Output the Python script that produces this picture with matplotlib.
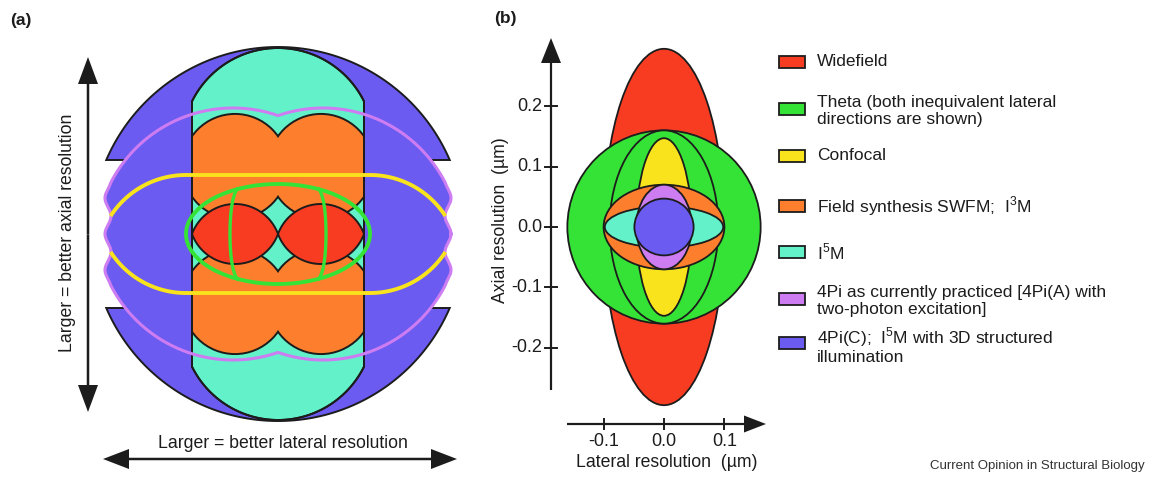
import numpy as np
import matplotlib.pyplot as plt
from matplotlib.patches import Ellipse, Polygon, Rectangle, Circle

plt.rcParams['font.family'] = ['Liberation Sans', 'DejaVu Sans']
plt.rcParams['mathtext.fontset'] = 'custom'
plt.rcParams['mathtext.rm'] = 'Liberation Sans'

W, H = 1149, 480
INK = '#1c1c1c'

# method colours
c_wide, c_theta, c_conf = '#f83c22', '#35e337', '#f9e31c'
c_field, c_i5m, c_4pi, c_4pic = '#fd7e2d', '#62f1c9', '#cd7df1', '#6b5bf1'

# ---- (b) resolution ellipses, half widths in um (lateral, axial)
b_colors = [c_wide, c_theta, c_theta, c_conf, c_field, c_i5m, c_4pi, c_4pic]
b_lateral = [0.100, 0.160, 0.090, 0.046, 0.100, 0.098, 0.046, 0.049]
b_axial = [0.295, 0.160, 0.160, 0.147, 0.070, 0.034, 0.070, 0.047]
y_ticks = [0.2, 0.1, 0.0, -0.1, -0.2]
x_ticks = [-0.1, 0.0, 0.1]

legend_labels = ['Widefield',
                 'Theta (both inequivalent lateral\ndirections are shown)',
                 'Confocal',
                 'Field synthesis SWFM;  I$^{\\mathregular{3}}$M',
                 'I$^{\\mathregular{5}}$M',
                 '4Pi as currently practiced [4Pi(A) with\ntwo-photon excitation]',
                 '4Pi(C);  I$^{\\mathregular{5}}$M with 3D structured\nillumination']
legend_colors = [c_wide, c_theta, c_conf, c_field, c_i5m, c_4pi, c_4pic]

# ---- (a) OTF supports, pixel units about the centre of the drawing
sphere_r, cap_cut = 187, 74                        # 4Pi(C)
col_half, col_cap_r, col_cap_c = 86, 96, 90        # I5M
field_cx, field_cy, field_r = 43, 67.5, 51.6       # SWFM / I3M
lens_len, lens_h = 86, 30                          # widefield
pi_cx, pi_cy, pi_r, pi_side = 45, 11.4, 137.4, 170  # 4Pi(A)
conf_flat, conf_top, conf_r, conf_end = 92, 59, 89.8, 18  # confocal
theta_a, theta_b, theta_in = 92, 50, 48            # theta

fig = plt.figure(figsize=(W / 100, H / 100), dpi=100)

# overlay in pixel coordinates for legend, letters, caption
ov = fig.add_axes([0, 0, 1, 1])
ov.set_xlim(0, W)
ov.set_ylim(H, 0)
ov.axis('off')

# ================= panel (a) =================
axa = fig.add_axes([0, 0, 480 / W, 1])
axa.set_xlim(-278, 202)
axa.set_ylim(-246, 234)
axa.axis('off')

# 4Pi(C) caps
a0 = np.arcsin(cap_cut / sphere_r)
t = np.linspace(a0, np.pi - a0, 200)
cap = np.c_[sphere_r * np.cos(t), sphere_r * np.sin(t)]
for s in (1, -1):
    axa.add_patch(Polygon(cap * [1, s], closed=True, fc=c_4pic, ec=INK, lw=1.4, zorder=1))


# 4Pi(A) outline: star shaped region found along rays from the centre
def ray(th, cx, cy, r):
    p = np.cos(th) * cx + np.sin(th) * cy
    return p + np.sqrt(p ** 2 - cx ** 2 - cy ** 2 + r ** 2)


th = np.linspace(0, 2 * np.pi, 2881)
upper = np.maximum(ray(th, pi_cx, -pi_cy, pi_r), ray(th, -pi_cx, -pi_cy, pi_r))
lower = np.maximum(ray(th, pi_cx, pi_cy, pi_r), ray(th, -pi_cx, pi_cy, pi_r))
rr = np.minimum(upper, lower)
px, py = rr * np.cos(th), rr * np.sin(th)
side = pi_side + 3 * np.cos(2 * np.pi * py / 36)
px = np.clip(px, -side, side)
axa.add_patch(Polygon(np.c_[px, py], closed=True, fc=c_4pic, ec='none', zorder=2))

# I5M column
ca = np.arccos(col_half / col_cap_r)
t = np.linspace(ca, np.pi - ca, 120)
ctop = np.c_[col_cap_r * np.cos(t), col_cap_c + col_cap_r * np.sin(t)]
col = np.vstack([ctop, -ctop])
col_patch = Polygon(col, closed=True, fc=c_i5m, ec=INK, lw=1.4, zorder=3)
axa.add_patch(col_patch)

# field synthesis: union of four discs, outlined then filled
for k in range(2):
    for sx in (1, -1):
        for sy in (1, -1):
            c = Circle((sx * field_cx, sy * field_cy), field_r, fc=c_field,
                       ec=INK if k == 0 else 'none', lw=2.8 if k == 0 else 0, zorder=4)
            axa.add_patch(c)
            c.set_clip_path(col_patch)

# widefield lenses
w = lens_len / 2
rl = (w ** 2 + lens_h ** 2) / (2 * lens_h)
xs = np.linspace(-w, w, 100)
up = (lens_h - rl) + np.sqrt(rl ** 2 - xs ** 2)
lens = np.r_[np.c_[xs, up], np.c_[xs[::-1], -up[::-1]]]
for sx in (1, -1):
    axa.add_patch(Polygon(lens + [sx * w, 0], closed=True, fc=c_wide, ec=INK, lw=1.4, zorder=5))

axa.add_patch(Polygon(col, closed=True, fill=False, ec=INK, lw=1.4, zorder=6))

axa.plot(np.r_[px, px[0]], np.r_[py, py[0]], color=c_4pi, lw=2.2, zorder=7)

# confocal outline
cy0 = conf_top - conf_r
a_end = np.arcsin((conf_end - cy0) / conf_r)
aa = np.linspace(np.pi / 2, a_end, 60)
right = np.c_[conf_flat + conf_r * np.cos(aa), cy0 + conf_r * np.sin(aa)]
curve = np.vstack([(right * [-1, 1])[::-1], right])
for s in (1, -1):
    axa.plot(curve[:, 0], s * curve[:, 1], color=c_conf, lw=2.8, zorder=8, solid_capstyle='butt')

# theta outlines
axa.add_patch(Ellipse((0, 0), 2 * theta_a, 2 * theta_b, fill=False, ec=c_theta, lw=2.8, zorder=9))
s = np.linspace(-0.9, 0.9, 80)
xin = theta_in * (1 - s ** 2) ** 0.1
for sx in (1, -1):
    axa.plot(sx * xin, theta_b * s, color=c_theta, lw=2.4, zorder=9)


def double_arrow(ax, x0, y0, x1, y1, hw, hl, lw):
    xm, ym = (x0 + x1) / 2, (y0 + y1) / 2
    for xe, ye in ((x0, y0), (x1, y1)):
        ax.arrow(xm, ym, xe - xm, ye - ym, width=lw, head_width=hw, head_length=hl,
                 length_includes_head=True, fc=INK, ec=INK, lw=0, zorder=10)


double_arrow(axa, -190, -178, -190, 177, 20, 27, 2.5)
double_arrow(axa, -175, -225, 179, -225, 20, 26, 2.5)
axa.text(-210, 1, 'Larger = better axial resolution', rotation=90, ha='center', va='center',
         fontsize=12.7, color=INK)
axa.text(5, -209, 'Larger = better lateral resolution', ha='center', va='center',
         fontsize=12.7, color=INK)

# ================= panel (b) =================
S = 604.0
bx0, by0 = 664, 227
axb = fig.add_axes([480 / W, 0, 300 / W, 1])
axb.set_xlim((480 - bx0) / S, (780 - bx0) / S)
axb.set_ylim((by0 - 480) / S, by0 / S)
axb.axis('off')

for lat, axl, colr in zip(b_lateral, b_axial, b_colors):
    axb.add_patch(Ellipse((0, 0), 2 * lat, 2 * axl, fc=colr, ec=INK, lw=1.3))

yax = (551 - bx0) / S
xax = (by0 - 424) / S
axb.arrow(yax, (by0 - 390) / S, 0, (390 - 38) / S, width=2.2 / S, head_width=20 / S,
          head_length=25 / S, length_includes_head=True, fc=INK, ec=INK, lw=0)
axb.arrow((567 - bx0) / S, xax, (766 - 567) / S, 0, width=2.2 / S, head_width=17 / S,
          head_length=22 / S, length_includes_head=True, fc=INK, ec=INK, lw=0)
for v in y_ticks:
    axb.plot([yax - 6 / S, yax + 6 / S], [v, v], color=INK, lw=1.4)
    axb.text(yax - 9 / S, v, f'{v:.1f}', ha='right', va='center', fontsize=13, color=INK)
for v in x_ticks:
    axb.plot([v, v], [xax - 5 / S, xax + 5 / S], color=INK, lw=1.4)
    axb.text(v, xax - 17 / S, f'{v:.1f}', ha='center', va='center', fontsize=13, color=INK)
axb.text((501 - bx0) / S, (by0 - 220) / S, 'Axial resolution  (µm)', rotation=90,
         ha='center', va='center', fontsize=12.7, color=INK)
axb.text((667 - bx0) / S, (by0 - 462) / S, 'Lateral resolution  (µm)',
         ha='center', va='center', fontsize=12.7, color=INK)

# ================= legend, letters, caption =================
leg_y = [62, 109, 156, 206, 252, 299, 343]
for yy, lab, colr in zip(leg_y, legend_labels, legend_colors):
    ov.add_patch(Rectangle((779, yy - 6), 26, 12, fc=colr, ec=INK, lw=1.3))
    off = 2 if '\n' in lab else 0
    ov.text(817, yy + off, lab, ha='left', va='center', fontsize=12.5, color=INK,
            linespacing=1.12)

ov.text(10, 20, '(a)', fontsize=12.5, fontweight='bold', ha='left', va='center', color=INK)
ov.text(494, 18, '(b)', fontsize=12.5, fontweight='bold', ha='left', va='center', color=INK)
ov.text(1145, 466, 'Current Opinion in Structural Biology', ha='right', va='center',
        fontsize=9.5, color='#333333')

fig.savefig('out.png', dpi=100, facecolor='white')
